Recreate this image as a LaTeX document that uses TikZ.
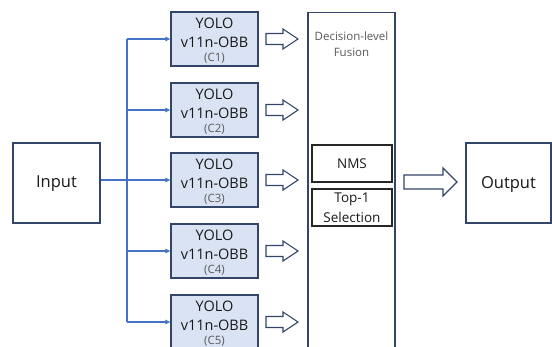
\documentclass[tikz,border=0pt]{standalone}
\usepackage{fontspec}
\setmainfont{Open Sans}
\usetikzlibrary{arrows.meta,calc}
\definecolor{navy}{HTML}{34456A}
\definecolor{boxfill}{HTML}{DAE3F3}
\definecolor{linkblue}{HTML}{4472C4}
\definecolor{softgray}{HTML}{595959}
\tikzset{
  yolobox/.style={draw=navy,fill=boxfill,line width=1.3pt,minimum width=87pt,minimum height=54pt,inner sep=0pt},
  plainbox/.style={draw=navy,fill=white,line width=1.1pt,minimum width=87pt,minimum height=80pt,inner sep=0pt},
  blackbox/.style={draw=black!85,line width=1.2pt,minimum width=80pt,minimum height=37pt,inner sep=0pt},
  bigtxt/.style={font=\fontsize{14.5}{16}\selectfont,text=black!90,inner sep=0pt},
  iotxt/.style={font=\fontsize{16.5}{18}\selectfont,text=black!90,inner sep=0pt},
  midtxt/.style={font=\fontsize{13.5}{15}\selectfont,text=black!90,inner sep=0pt},
  smalltxt/.style={font=\fontsize{11.5}{13}\selectfont,text=softgray,inner sep=0pt},
  link/.style={draw=linkblue,line width=1.1pt},
  linkarrow/.style={link,-{Triangle[length=5pt,width=4.5pt]}},
  hollow/.style={draw=navy,fill=white,line width=1.1pt,line join=miter}
}
\begin{document}
\begin{tikzpicture}[x=1pt,y=-1pt]
\useasboundingbox (0,0) rectangle (552,346);
\clip (0,0) rectangle (552,346);
% Input
\node[plainbox] (input) at (56.5,183) {};
\node[iotxt] (inputtxt) at (56.5,184) {Input};
% Output
\node[plainbox,minimum width=85pt] (output) at (508.5,183) {};
\node[iotxt] (outputtxt) at (508.5,184) {Output};
% Fusion box
\node[plainbox,minimum width=87pt,minimum height=350pt,anchor=north] (fusion) at (351.5,12) {};
\node[smalltxt] (fus1) at (351.5,36) {Decision-level};
\node[smalltxt] (fus2) at (351.5,52) {Fusion};
\node[blackbox] (nms) at (352,163.5) {};
\node[midtxt] (nmstxt) at (352,164) {NMS};
\node[blackbox] (top) at (352,207.5) {};
\node[midtxt] (toptxt1) at (352,199) {Top-1};
\node[midtxt] (toptxt2) at (352,217) {Selection};
% YOLO boxes
\foreach \i/\y in {1/39,2/110,3/180,4/251,5/322}{
  \node[yolobox] (c\i) at (214.5,\y) {};
  \node[bigtxt] (c\i a) at (214.5,\y-16) {YOLO};
  \node[bigtxt] (c\i b) at (214.5,\y+3) {v11n-OBB};
  \node[smalltxt] (c\i c) at (214.5,\y+19) {(C\i)};
  % hollow arrow
  \draw[hollow] (266,\y-5.5) -- (283,\y-5.5) -- (283,\y-10) -- (298,\y) -- (283,\y+10) -- (283,\y+5.5) -- (266,\y+5.5) -- cycle;
}
% links
\coordinate (ttop) at (127,39);
\coordinate (tbot) at (127,322);
\draw[link] (ttop) -- (tbot);
\draw[linkarrow] (input.east |- c3.west) -- (c3.west);
\foreach \i in {1,2,4,5}{
  \draw[linkarrow] (ttop |- c\i.west) -- (c\i.west);
}
% big hollow arrow
\draw[hollow] (404,175) -- (443,175) -- (443,168) -- (457,182) -- (443,196) -- (443,189) -- (404,189) -- cycle;
\end{tikzpicture}
\end{document}
